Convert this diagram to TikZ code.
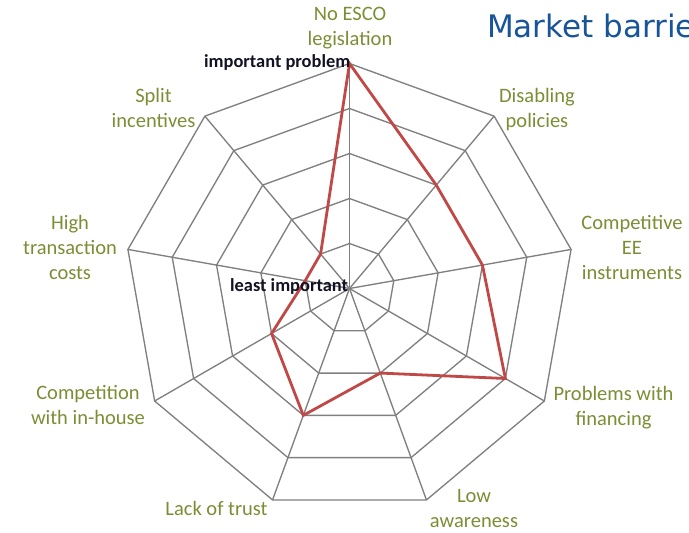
\documentclass[tikz,border=0pt]{standalone}
\usepackage{fontspec}
\setmainfont{Carlito}
\newfontfamily\titlefont{DejaVu Sans}
\usetikzlibrary{calc}
\definecolor{labelgreen}{RGB}{122,142,52}
\definecolor{gridgray}{RGB}{128,128,128}
\definecolor{datared}{RGB}{192,72,70}
\definecolor{titleblue}{RGB}{24,84,152}
\definecolor{darktext}{RGB}{18,18,36}
\tikzset{
  gridline/.style={draw=gridgray, line width=1.35pt, line join=miter},
  dataline/.style={draw=datared, line width=2.8pt, line join=miter},
  axislabel/.style={text=labelgreen, align=center, inner sep=0pt, anchor=base,
    font=\fontsize{20.5}{25}\selectfont},
  scalelabel/.style={text=darktext, inner sep=0pt, anchor=base west,
    font=\fontsize{18.4}{22}\selectfont\bfseries},
  titletext/.style={text=titleblue, inner sep=0pt, anchor=base west,
    font=\titlefont\fontsize{31}{36}\selectfont}
}
\begin{document}
\begin{tikzpicture}[x=1pt,y=-1pt]
\useasboundingbox (0,0) rectangle (689,533);
\clip (0,0) rectangle (689,533);
\coordinate (C) at (349.5,288.5);
% grid points
\foreach \k in {0,...,8}{
  \foreach \r in {1,...,5}{
    \coordinate (p\k-\r) at ($(C)+({40*\k-90}:{45*\r})$);
  }
}
% rings
\foreach \r in {1,...,5}{
  \draw[gridline] (p0-\r) -- (p1-\r) -- (p2-\r) -- (p3-\r) -- (p4-\r)
    -- (p5-\r) -- (p6-\r) -- (p7-\r) -- (p8-\r) -- cycle;
}
% spokes
\foreach \k in {0,...,8}{
  \draw[gridline] (C) -- (p\k-5);
}
% data
\foreach \k/\v in {0/5,1/3,2/3,3/4,4/2,5/3,6/2,7/1,8/1}{
  \coordinate (d\k) at (p\k-\v);
}
\draw[dataline] (d0) -- (d1) -- (d2) -- (d3) -- (d4) -- (d5) -- (d6) -- (d7) -- (d8) -- cycle;
% axis labels (anchor = baseline of last line)
\node[axislabel] (l0) at (350,45) {No ESCO\\legislation};
\node[axislabel] (l1) at (537,127) {Disabling\\policies};
\node[axislabel] (l2) at (632,279) {Competitive\\EE\\instruments};
\node[axislabel] (l3) at (613.5,425) {Problems with\\financing};
\node[axislabel] (l4) at (474,527) {Low\\awareness};
\node[axislabel] (l5) at (216.5,515) {Lack of trust};
\node[axislabel] (l6) at (88,424) {Competition\\with in-house};
\node[axislabel] (l7) at (70,279) {High\\transaction\\costs};
\node[axislabel] (l8) at (153.5,127) {Split\\incentives};
% scale labels
\node[scalelabel] (top) at (204,67) {important problem};
\node[scalelabel] (low) at (230,291) {least important};
% title
\node[titletext] (title) at (487,37) {Market barrie};
\end{tikzpicture}
\end{document}
